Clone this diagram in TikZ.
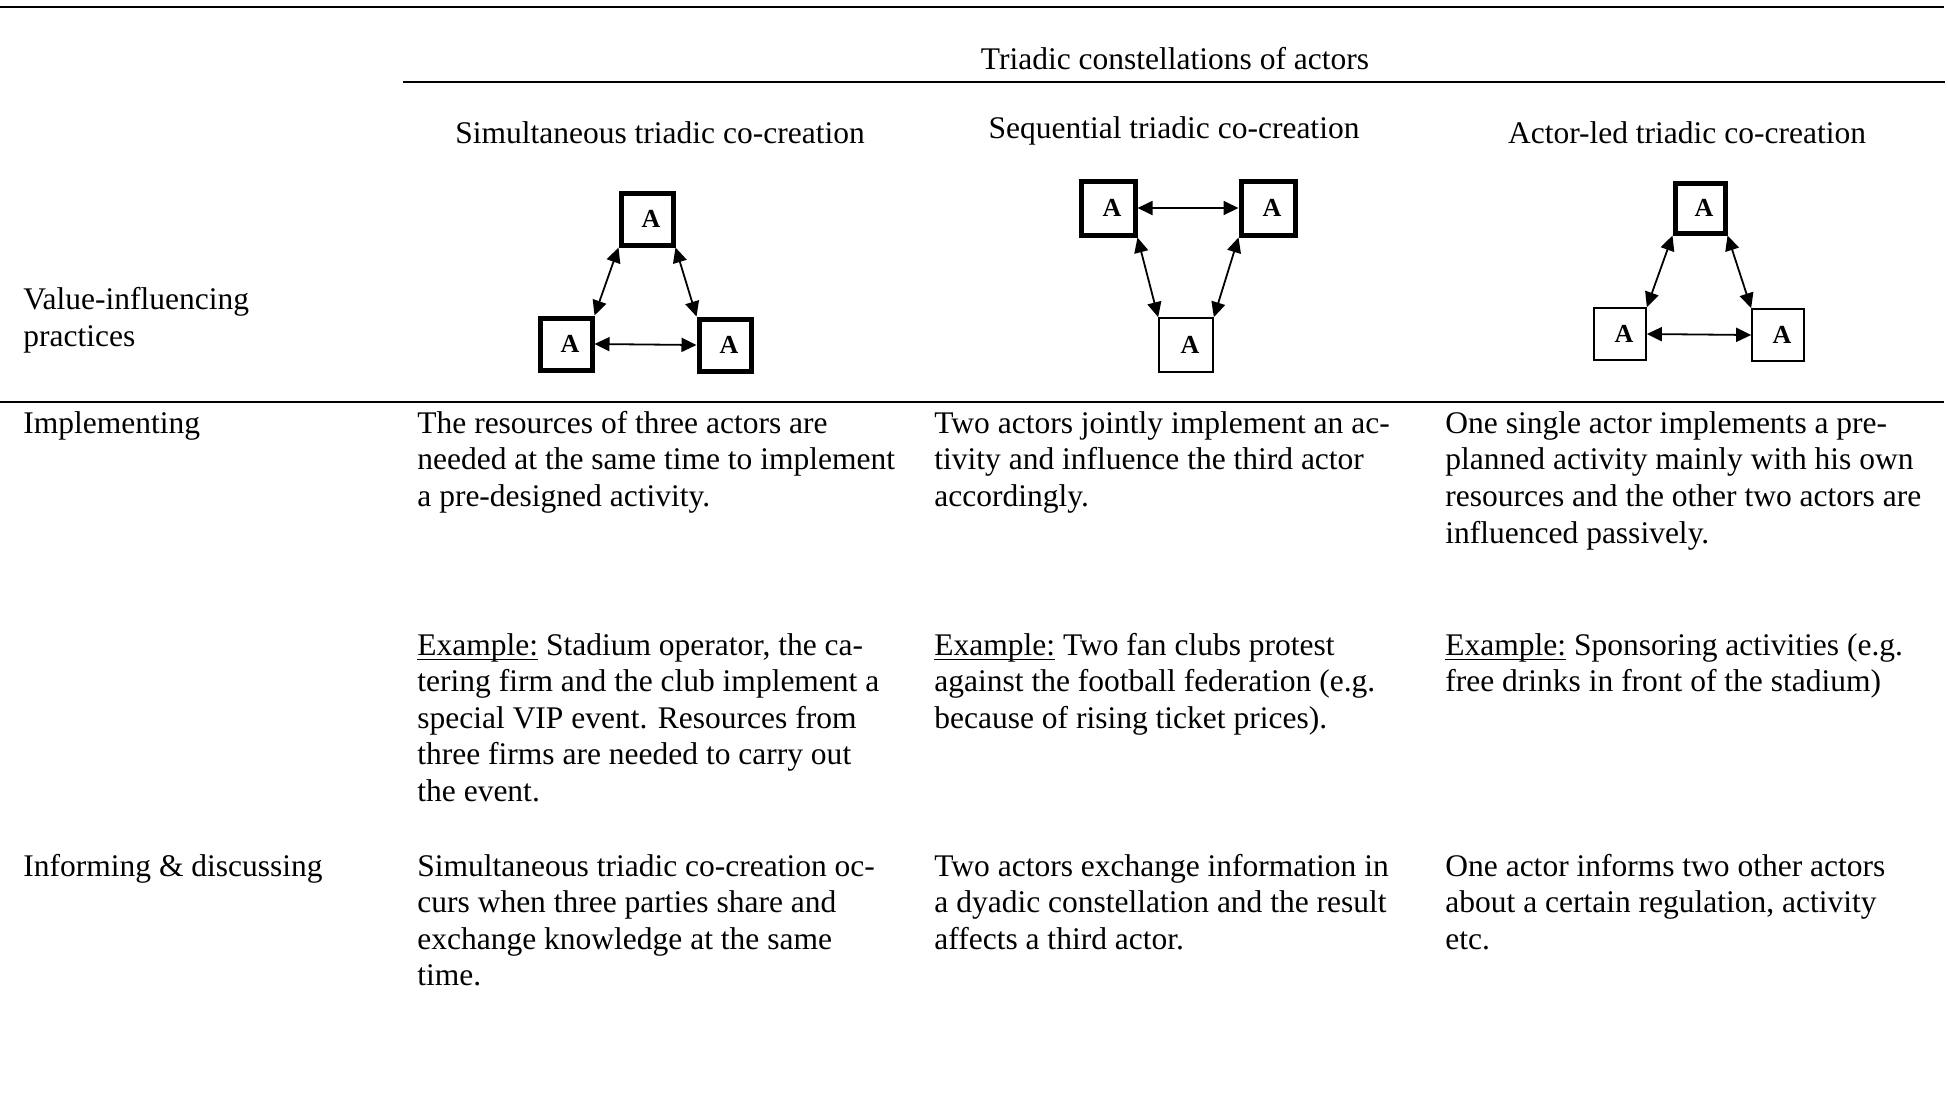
\documentclass[tikz,border=0pt]{standalone}
\usepackage{fontspec}
\setmainfont{Liberation Serif}
\usetikzlibrary{arrows.meta}
\newcommand\myul[1]{\setbox0\hbox{#1}\rlap{\rule[-2.6pt]{\wd0}{0.75pt}}\box0\relax}
\newcommand\bodyfont{\fontsize{15.75pt}{18.3pt}\selectfont}
\newcommand\boxfont{\fontsize{13pt}{15pt}\selectfont\bfseries}
\newcommand\actorA{\hspace*{4pt}\raisebox{-1.5pt}{A}}
\begin{document}
\begin{tikzpicture}[x=0.5pt,y=-0.5pt,
  txt/.style={anchor=base west, align=left, inner sep=0pt, font=\bodyfont},
  ctr/.style={anchor=base, inner sep=0pt, font=\bodyfont},
  thickbox/.style={draw, line width=2.5pt, minimum size=26pt, inner sep=0pt, font=\boxfont},
  thinbox/.style={draw, line width=0.85pt, minimum size=26.5pt, inner sep=0pt, font=\boxfont},
  link/.style={line width=0.9pt, {Triangle[length=7.5pt,width=7pt]}-{Triangle[length=7.5pt,width=7pt]}},
  tablerule/.style={line width=1pt}]
\useasboundingbox (0,0) rectangle (1948,1099);

% rules
\coordinate (r1a) at (0,7.3);   \coordinate (r1b) at (1944,7.3);
\coordinate (r2a) at (403,82.3); \coordinate (r2b) at (1945,82.3);
\coordinate (r3a) at (0,402);   \coordinate (r3b) at (1944,402);
\draw[tablerule] (r1a) -- (r1b);
\draw[tablerule] (r2a) -- (r2b);
\draw[tablerule] (r3a) -- (r3b);

% headers (multi-line nodes are placed by the baseline of their last line)
\node[ctr] (hmain) at (1175,69) {Triadic constellations of actors};
\node[ctr] (hsim) at (660,143) {Simultaneous triadic co-creation};
\node[ctr] (hseq) at (1174,138) {Sequential triadic co-creation};
\node[ctr] (hact) at (1687,143) {Actor-led triadic co-creation};
\node[txt] (hval) at (23,346) {Value-influencing\\practices};

% simultaneous diagram
\node[thickbox] (s1) at (647,219) {\actorA};
\node[thickbox] (s2) at (566,344) {\actorA};
\node[thickbox] (s3) at (725,345) {\actorA};
\draw[link] (s1.south west) -- (s2.north east);
\draw[link] (s1.south east) -- (s3.north west);
\draw[link] (s2.east) -- (s3.west);

% sequential diagram
\node[thickbox, minimum size=27pt] (q1) at (1108,208) {\actorA};
\node[thickbox, minimum size=27pt] (q2) at (1268,208) {\actorA};
\node[thinbox, minimum size=27pt] (q3) at (1186,345) {\actorA};
\draw[link] (q1.east) -- (q2.west);
\draw[link] (q1.south east) -- (q3.north west);
\draw[link] (q2.south west) -- (q3.north east);

% actor-led diagram
\node[thickbox, minimum size=25pt] (a1) at (1700,208) {\actorA};
\node[thinbox, minimum size=26pt] (a2) at (1620,334) {\actorA};
\node[thinbox, minimum size=26pt] (a3) at (1778,335) {\actorA};
\draw[link] (a1.south west) -- (a2.north east);
\draw[link] (a1.south east) -- (a3.north west);
\draw[link] (a2.east) -- (a3.west);

% row labels
\node[txt] (rimp) at (23,433) {Implementing};
\node[txt] (rinf) at (23,876) {Informing \& discussing};

% implementing row
\node[txt] (c1a) at (417,506.5) {The resources of three actors are\\needed at the same time to implement\\a pre-designed activity.};
\node[txt] (c2a) at (934,506.5) {Two actors jointly implement an ac-\\tivity and influence the third actor\\accordingly.};
\node[txt] (c3a) at (1445,543) {One single actor implements a pre-\\planned activity mainly with his own\\resources and the other two actors are\\influenced passively.};

% examples
\node[txt] (c1b) at (417,801.5) {\myul{Example:} Stadium operator, the ca-\\tering firm and the club implement a\\special VIP event. Resources from\\three firms are needed to carry out\\the event.};
\node[txt] (c2b) at (934,728.2) {\myul{Example:} Two fan clubs protest\\against the football federation (e.g.\\because of rising ticket prices).};
\node[txt] (c3b) at (1445,691.6) {\myul{Example:} Sponsoring activities (e.g.\\free drinks in front of the stadium)};

% informing row
\node[txt] (c1c) at (417,985.8) {Simultaneous triadic co-creation oc-\\curs when three parties share and\\exchange knowledge at the same\\time.};
\node[txt] (c2c) at (934,949.2) {Two actors exchange information in\\a dyadic constellation and the result\\affects a third actor.};
\node[txt] (c3c) at (1445,949.2) {One actor informs two other actors\\about a certain regulation, activity\\etc.};
\end{tikzpicture}
\end{document}
